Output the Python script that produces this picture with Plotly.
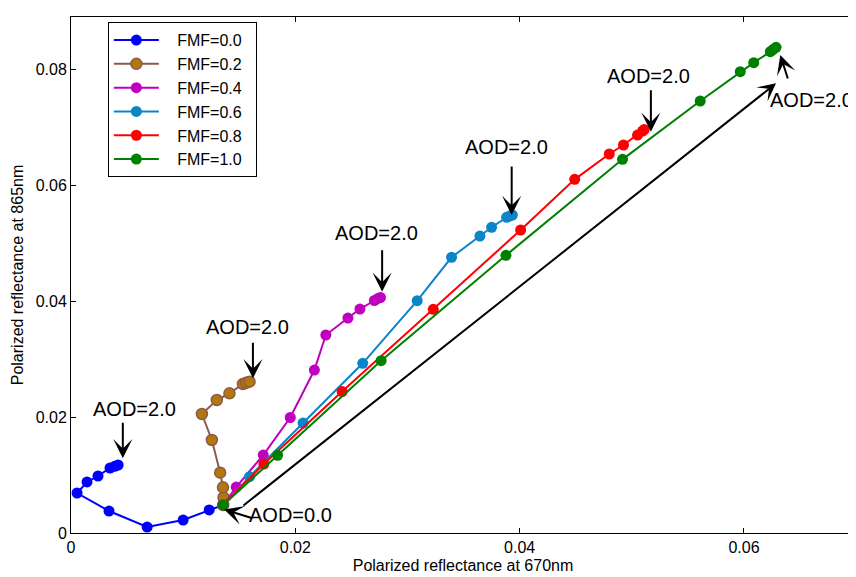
import plotly.graph_objects as go

# ---- data ----
labels = ["FMF=0.0", "FMF=0.2", "FMF=0.4", "FMF=0.6", "FMF=0.8", "FMF=1.0"]

x_fmf00 = [0.01357, 0.01232, 0.0100, 0.00679, 0.00339, 0.00054, 0.00143, 0.00241, 0.00348, 0.00390, 0.00420]
y_fmf00 = [0.00483, 0.00397, 0.00224, 0.00103, 0.00379, 0.00690, 0.00880, 0.00983, 0.01121, 0.01150, 0.01173]

x_fmf02 = [0.01357, 0.0136, 0.01355, 0.0133, 0.01256, 0.01167, 0.0130, 0.01413, 0.01533, 0.01563, 0.01592]
y_fmf02 = [0.00483, 0.00612, 0.00788, 0.0104, 0.01604, 0.02052, 0.02294, 0.02409, 0.0257, 0.02592, 0.0261]

x_fmf04 = [0.01357, 0.01473, 0.01714, 0.01955, 0.0217, 0.02272, 0.02469, 0.02576, 0.02705, 0.02737, 0.02759]
y_fmf04 = [0.00483, 0.00793, 0.01345, 0.01992, 0.02811, 0.03415, 0.03708, 0.03863, 0.0401, 0.04045, 0.04062]

x_fmf06 = [0.01357, 0.01592, 0.02069, 0.02601, 0.03087, 0.03393, 0.03646, 0.0375, 0.03884, 0.03911, 0.03935]
y_fmf06 = [0.00483, 0.00971, 0.01897, 0.02927, 0.04007, 0.04755, 0.05122, 0.05273, 0.05445, 0.05467, 0.05485]

x_fmf08 = [0.01357, 0.01719, 0.02417, 0.0323, 0.04009, 0.04491, 0.04799, 0.04926, 0.05051, 0.05096, 0.0511]
y_fmf08 = [0.00483, 0.0119, 0.0244, 0.03858, 0.05226, 0.061, 0.06537, 0.06692, 0.06864, 0.06933, 0.06959]

x_fmf10 = [0.01357, 0.01842, 0.02765, 0.03878, 0.04917, 0.0561, 0.05967, 0.06087, 0.06235, 0.06259, 0.06286]
y_fmf10 = [0.00483, 0.0134, 0.02972, 0.0479, 0.06445, 0.07451, 0.07956, 0.08112, 0.08301, 0.08339, 0.08377]

xs = [x_fmf00, x_fmf02, x_fmf04, x_fmf06, x_fmf08, x_fmf10]
ys = [y_fmf00, y_fmf02, y_fmf04, y_fmf06, y_fmf08, y_fmf10]

line_colors = ["#0000ff", "#8c5a4c", "#bf00bf", "#0c84c8", "#ff0000", "#008000"]
fill_colors = ["#0000ff", "#b27809", "#bf00bf", "#0c84c8", "#ff0000", "#008000"]

x_ticks = [0, 0.02, 0.04, 0.06]
y_ticks = [0, 0.02, 0.04, 0.06, 0.08]

# AOD annotations: (text, text_x, text_y, tip_x, tip_y, tail_dx_px, tail_dy_px)
aod_notes = [
    ("AOD=2.0", 0.005625, 0.02139, 0.00462, 0.01288, 0, -37),
    ("AOD=2.0", 0.01571, 0.03553, 0.01622, 0.02668, 0, -37),
    ("AOD=2.0", 0.02723, 0.05166, 0.02774, 0.04162, 0, -43),
    ("AOD=2.0", 0.03884, 0.06666, 0.03929, 0.05485, 0, -50),
    ("AOD=2.0", 0.05152, 0.07891, 0.0517, 0.06921, 0, -43),
    ("AOD=2.0", 0.06600, 0.07468, 0.06324, 0.08244, 8, 25),
    ("AOD=0.0", 0.01955, 0.00302, 0.01366, 0.00405, 29, 9),
]
# long black arrow (tail -> head) in data units
long_arrow_tail = (0.01524, 0.00454)
long_arrow_head = (0.06286, 0.07756)

FONT = "Liberation Sans, Arial, Helvetica, sans-serif"
NBSP = "\u00a0"

fig = go.Figure()
for i in range(len(labels)):
    fig.add_trace(go.Scatter(
        x=xs[i], y=ys[i], mode="lines+markers", name=NBSP * 3 + labels[i] + NBSP * 2,
        line=dict(color=line_colors[i], width=2),
        marker=dict(size=11, color=fill_colors[i],
                    line=dict(color=line_colors[i], width=1.5 if i == 1 else 0)),
    ))

annotations = []
for txt, tx, ty, hx, hy, dx, dy in aod_notes:
    annotations.append(dict(x=tx, y=ty, xref="x", yref="y", text=txt, showarrow=False,
                            font=dict(size=20, color="black", family=FONT)))
    annotations.append(dict(x=hx, y=hy, xref="x", yref="y", text="", showarrow=True,
                            ax=dx, ay=dy, arrowhead=3, arrowsize=1.6, arrowwidth=2,
                            arrowcolor="black"))
annotations.append(dict(x=long_arrow_head[0], y=long_arrow_head[1], xref="x", yref="y",
                        ax=long_arrow_tail[0], ay=long_arrow_tail[1], axref="x", ayref="y",
                        text="", showarrow=True, arrowhead=3, arrowsize=1.5, arrowwidth=2,
                        arrowcolor="black"))

axis_common = dict(showgrid=False, zeroline=False, showline=True, linecolor="black",
                   linewidth=1, mirror="ticks", ticks="inside", ticklen=5,
                   tickcolor="black", automargin=False,
                   tickfont=dict(size=16, color="black", family=FONT))

# the page body has an 8px margin, so the figure is sized/offset to compensate
fig.update_layout(
    width=848, height=569,
    margin=dict(l=63, r=1, t=9, b=44, pad=0),
    paper_bgcolor="white", plot_bgcolor="white",
    font=dict(family=FONT, color="black"),
    xaxis=dict(range=[0, 0.0699], tickvals=x_ticks, ticktext=["0", "0.02", "0.04", "0.06"],
               title=dict(text="Polarized reflectance at 670nm", font=dict(size=16), standoff=4),
               **axis_common),
    yaxis=dict(range=[0, 0.089], tickvals=y_ticks,
               ticktext=["0", "0.02", "0.04", "0.06", "0.08"],
               title=dict(text="Polarized reflectance at 865nm", font=dict(size=16), standoff=8),
               **axis_common),
    legend=dict(x=0.047, y=0.99, xanchor="left", yanchor="top",
                bgcolor="white", bordercolor="black", borderwidth=1,
                font=dict(size=16, color="black", family=FONT),
                itemwidth=45),
    annotations=annotations,
    showlegend=True,
)

fig.write_html("out.html")
